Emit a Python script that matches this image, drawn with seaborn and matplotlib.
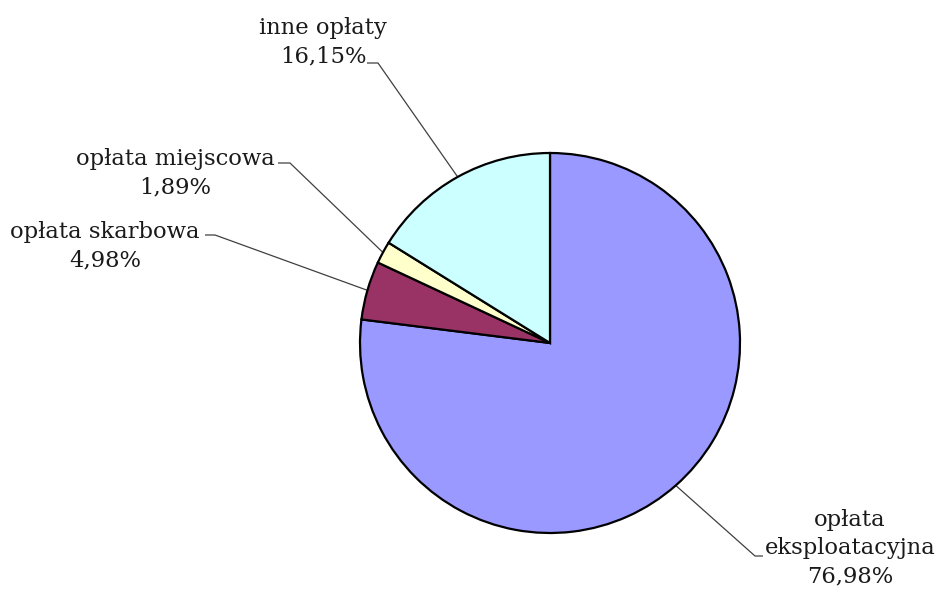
import numpy as np
import matplotlib
matplotlib.use("Agg")
import matplotlib.pyplot as plt
import seaborn as sns

labels = ["opłata\neksploatacyjna", "opłata skarbowa", "opłata miejscowa", "inne opłaty"]
values = [76.98, 4.98, 1.89, 16.15]
pct_text = ["76,98%", "4,98%", "1,89%", "16,15%"]
colors = ["#9999FF", "#993366", "#FFFFCC", "#CCFFFF"]

sns.set_theme(style="white")
plt.rcParams['font.family'] = ['DejaVu Serif', 'Liberation Serif']

W, H = 942, 589
fig = plt.figure(figsize=(W / 100, H / 100), dpi=100)
ax = fig.add_axes([0, 0, 1, 1])

cx, cy, R = 550, H - 343, 190
wedges, _ = ax.pie(values, colors=colors, startangle=90, counterclock=False,
                   center=(cx, cy), radius=R, frame=True,
                   wedgeprops=dict(edgecolor="black", linewidth=1.6))
ax.set_xlim(0, W)
ax.set_ylim(0, H)
ax.set_aspect("equal")
ax.axis("off")

# layout: (text center x, text center y, elbow x, elbow y, text-side x) in pixel coords (y from top)
layout = [
    (850, 548, 755, 556, 763),
    (105, 246, 215, 235, 205),
    (175, 173, 290, 163, 278),
    (323, 42, 378, 63, 367),
]

for w, lab, pct, (tx, ty, ex, ey, hx) in zip(wedges, labels, pct_text, layout):
    ang = np.deg2rad((w.theta1 + w.theta2) / 2)
    px = cx + R * np.cos(ang)
    py = cy + R * np.sin(ang)
    ax.plot([px, ex, hx], [py, H - ey, H - ey], color="#404040", linewidth=0.9,
            solid_capstyle="butt", zorder=0)
    ax.text(tx, H - ty, lab + "\n" + pct, ha="center", va="center",
            multialignment="center", fontsize=16.3, color="#1a1a1a", linespacing=1.38)

fig.savefig("out.png", dpi=100)
